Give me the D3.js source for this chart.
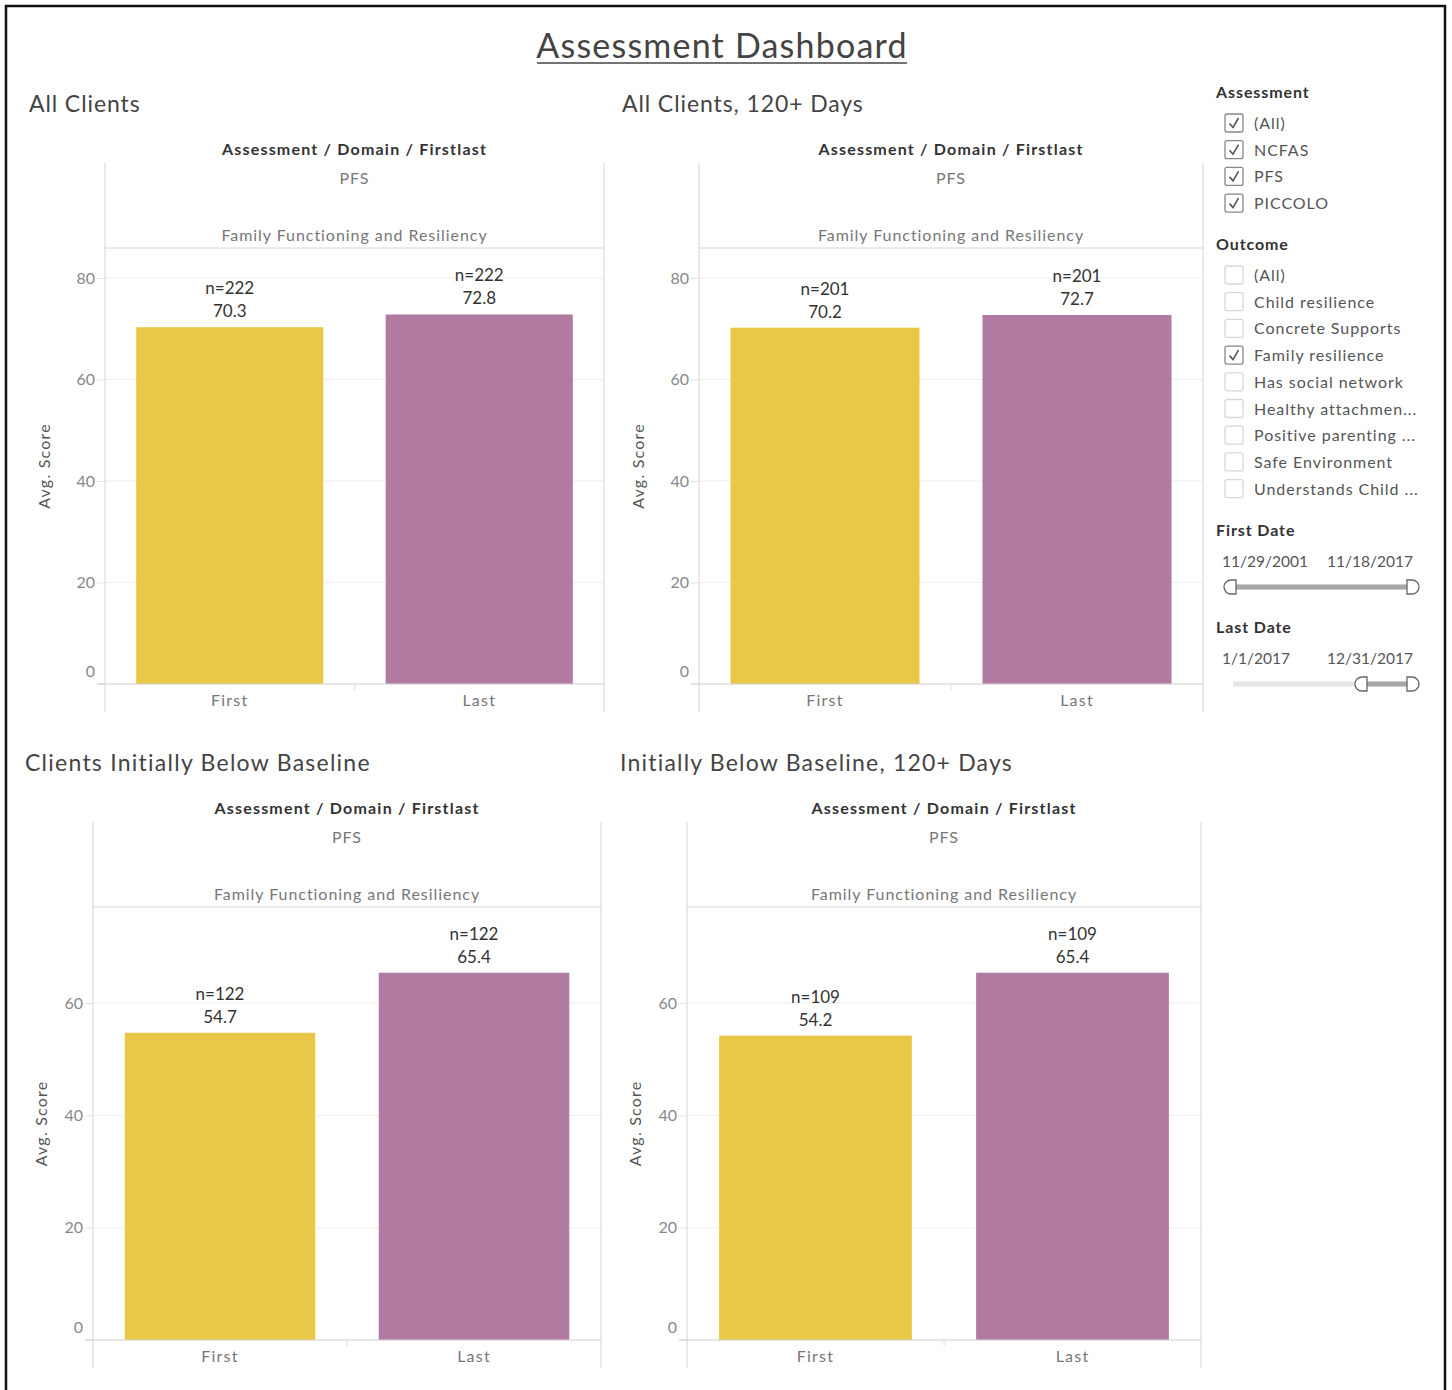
<!DOCTYPE html>
<html>
<head>
<meta charset="utf-8">
<script src="https://cdn.jsdelivr.net/npm/d3@7"></script>
<style>
  html, body { margin: 0; padding: 0; background: #fff; }
  svg { display: block; font-family: Lato, "Open Sans", sans-serif; }
</style>
</head>
<body>
<svg id="dash" width="1452" height="1390"></svg>
<script>
// ---- data ----
const panelTitles = ["All Clients", "All Clients, 120+ Days", "Clients Initially Below Baseline", "Initially Below Baseline, 120+ Days"];
const categories = ["First", "Last"];
const avgScores = [[70.3, 72.8], [70.2, 72.7], [54.7, 65.4], [54.2, 65.4]];
const clientCounts = [[222, 222], [201, 201], [122, 122], [109, 109]];
const yTicksTop = [0, 20, 40, 60, 80];
const yTicksBottom = [0, 20, 40, 60];
const headerLabel = "Assessment / Domain / Firstlast";
const assessmentName = "PFS";
const domainName = "Family Functioning and Resiliency";

const assessmentOptions = ["(All)", "NCFAS", "PFS", "PICCOLO"];
const assessmentChecked = [true, true, true, true];
const outcomeOptions = ["(All)", "Child resilience", "Concrete Supports", "Family resilience", "Has social network", "Healthy attachmen...", "Positive parenting ...", "Safe Environment", "Understands Child ..."];
const outcomeChecked = [false, false, false, true, false, false, false, false, false];
const firstDateRange = ["11/29/2001", "11/18/2017"];
const lastDateRange = ["1/1/2017", "12/31/2017"];

const barColors = ["#EAC847", "#B07AA1"];

const svg = d3.select("#dash");

// outer frame (bottom edge runs past the page)
svg.append("rect").attr("x", 6).attr("y", 6).attr("width", 1439).attr("height", 1400)
  .attr("fill", "none").attr("stroke", "#111").attr("stroke-width", 2.5);

// dashboard title
svg.append("text").attr("x", 722).attr("y", 58).attr("text-anchor", "middle")
  .attr("font-size", 34).attr("letter-spacing", 1.2).attr("fill", "#444").text("Assessment Dashboard");
svg.append("line").attr("x1", 537).attr("x2", 907).attr("y1", 63).attr("y2", 63)
  .attr("stroke", "#444").attr("stroke-width", 1.6);

// ---- panel layout ----
const layouts = [
  { titleX: 29,  titleY: 112, titleSpacing: 0.9, left: 105, right: 604,  top: 163, headerLine: 248, base: 684, bottom: 712, yMax: 85.9, ticks: yTicksTop, axisTitleGap: 55 },
  { titleX: 622, titleY: 112, titleSpacing: 0.9, left: 699, right: 1203, top: 163, headerLine: 248, base: 684, bottom: 712, yMax: 85.9, ticks: yTicksTop, axisTitleGap: 55 },
  { titleX: 25,  titleY: 771, titleSpacing: 1.25, left: 93,  right: 601,  top: 822, headerLine: 907, base: 1340, bottom: 1368, yMax: 77.1, ticks: yTicksBottom, axisTitleGap: 46 },
  { titleX: 620, titleY: 771, titleSpacing: 1.2, left: 687, right: 1201, top: 822, headerLine: 907, base: 1340, bottom: 1368, yMax: 77.1, ticks: yTicksBottom, axisTitleGap: 46 }
];

layouts.forEach((L, i) => {
  const g = svg.append("g");
  const cx = (L.left + L.right) / 2;

  g.append("text").attr("x", L.titleX).attr("y", L.titleY)
    .attr("font-size", 23).attr("letter-spacing", L.titleSpacing).attr("fill", "#444").text(panelTitles[i]);

  g.append("text").attr("x", cx).attr("y", L.top - 8).attr("text-anchor", "middle")
    .attr("font-size", 16).attr("letter-spacing", 1.2).attr("font-weight", 700).attr("fill", "#333").text(headerLabel);
  g.append("text").attr("x", cx).attr("y", L.top + 21).attr("text-anchor", "middle")
    .attr("font-size", 16).attr("letter-spacing", 1).attr("fill", "#777").text(assessmentName);
  g.append("text").attr("x", cx).attr("y", L.headerLine - 7).attr("text-anchor", "middle")
    .attr("font-size", 16).attr("letter-spacing", 0.95).attr("fill", "#777").text(domainName);

  const x = d3.scaleBand().domain(categories).range([L.left, L.right]).paddingInner(0.25).paddingOuter(0.125);
  const y = d3.scaleLinear().domain([0, L.yMax]).range([L.base, L.headerLine]);

  // gridlines
  g.append("g").selectAll("line").data(L.ticks.filter(t => t > 0)).join("line")
    .attr("x1", L.left).attr("x2", L.right).attr("y1", d => y(d)).attr("y2", d => y(d))
    .attr("stroke", "#eeeeee").attr("stroke-width", 1);

  // y axis
  const yAxis = d3.axisLeft(y).tickValues(L.ticks).tickSize(8).tickPadding(2).tickFormat(d3.format("d"));
  const ya = g.append("g").attr("transform", `translate(${L.left},0)`).call(yAxis);
  ya.select(".domain").remove();
  ya.selectAll(".tick line").attr("stroke", "#e4e4e4");
  ya.selectAll(".tick text").attr("font-size", 16).attr("fill", "#888")
    .attr("font-family", "Lato, sans-serif")
    .attr("dy", d => d === 0 ? "-0.45em" : "0.32em");

  g.append("text").attr("transform", `translate(${L.left - L.axisTitleGap},${(L.headerLine + L.base) / 2}) rotate(-90)`)
    .attr("text-anchor", "middle").attr("font-size", 16).attr("letter-spacing", 1.2).attr("fill", "#555").text("Avg. Score");

  // pane frame
  g.append("line").attr("x1", L.left).attr("x2", L.left).attr("y1", L.top).attr("y2", L.bottom).attr("stroke", "#d6d6d6");
  g.append("line").attr("x1", L.right).attr("x2", L.right).attr("y1", L.top).attr("y2", L.bottom).attr("stroke", "#d6d6d6");
  g.append("line").attr("x1", L.left).attr("x2", L.right).attr("y1", L.headerLine).attr("y2", L.headerLine).attr("stroke", "#d6d6d6");

  // bars
  const rows = categories.map((c, j) => ({ cat: c, v: avgScores[i][j], n: clientCounts[i][j], color: barColors[j] }));
  g.append("g").selectAll("rect").data(rows).join("rect")
    .attr("x", d => x(d.cat)).attr("width", x.bandwidth())
    .attr("y", d => y(d.v)).attr("height", d => y(0) - y(d.v))
    .attr("fill", d => d.color);

  // bar labels
  const lab = g.append("g").selectAll("g").data(rows).join("g");
  lab.append("text").attr("x", d => x(d.cat) + x.bandwidth() / 2).attr("y", d => y(d.v) - 33)
    .attr("text-anchor", "middle").attr("font-size", 17).attr("fill", "#333").text(d => "n=" + d.n);
  lab.append("text").attr("x", d => x(d.cat) + x.bandwidth() / 2).attr("y", d => y(d.v) - 10)
    .attr("text-anchor", "middle").attr("font-size", 17).attr("fill", "#333").text(d => d.v.toFixed(1));

  // x axis
  g.append("line").attr("x1", L.left - 8).attr("x2", L.right).attr("y1", L.base).attr("y2", L.base).attr("stroke", "#cfcfcf");
  g.append("line").attr("x1", cx).attr("x2", cx).attr("y1", L.base).attr("y2", L.base + 6).attr("stroke", "#e0e0e0");
  const xa = g.append("g").attr("transform", `translate(0,${L.base})`)
    .call(d3.axisBottom(x).tickSize(0).tickPadding(11));
  xa.select(".domain").remove();
  xa.selectAll(".tick text").attr("font-size", 16).attr("letter-spacing", 1.2).attr("fill", "#777")
    .attr("font-family", "Lato, sans-serif");
});

// ---- filter panel ----
const fp = svg.append("g");
const fx = 1216;

function checkbox(g, x, y, checked) {
  g.append("rect").attr("x", x).attr("y", y - 9).attr("width", 18).attr("height", 18).attr("rx", 2)
    .attr("fill", "#fff").attr("stroke", checked ? "#888" : "#d8d8d8").attr("stroke-width", 1.3);
  if (checked) {
    g.append("path").attr("d", `M${x + 4.5},${y + 0.5} L${x + 8},${y + 4.5} L${x + 13.5},${y - 5}`)
      .attr("fill", "none").attr("stroke", "#555").attr("stroke-width", 1.6);
  }
}

function filterList(titleText, titleY, items, checked, firstY) {
  fp.append("text").attr("x", fx).attr("y", titleY + 6).attr("font-size", 16).attr("font-weight", 700)
    .attr("letter-spacing", 0.9).attr("fill", "#333").text(titleText);
  items.forEach((t, k) => {
    const cy = firstY + k * 26.7;
    checkbox(fp, 1225, cy, checked[k]);
    fp.append("text").attr("x", 1254).attr("y", cy + 6).attr("font-size", 16).attr("letter-spacing", 0.95)
      .attr("fill", "#555").text(t);
  });
}

filterList("Assessment", 92, assessmentOptions, assessmentChecked, 123);
filterList("Outcome", 244, outcomeOptions, outcomeChecked, 275);

function handle(g, x, y, dir) {
  // half-rounded slider knob; dir = -1 rounds on the left, +1 on the right
  const w = 12, h = 14, r = 7;
  const p = dir < 0
    ? `M${x + 3},${y - h / 2} L${x - w + r + 3},${y - h / 2} A${r},${r} 0 0 0 ${x - w + r + 3},${y + h / 2} L${x + 3},${y + h / 2} Z`
    : `M${x - 3},${y - h / 2} L${x + w - r - 3},${y - h / 2} A${r},${r} 0 0 1 ${x + w - r - 3},${y + h / 2} L${x - 3},${y + h / 2} Z`;
  g.append("path").attr("d", p).attr("fill", "#fff").attr("stroke", "#666").attr("stroke-width", 1.3);
}

function dateSlider(titleText, titleY, range, selFrom) {
  fp.append("text").attr("x", fx).attr("y", titleY + 6).attr("font-size", 16).attr("font-weight", 700)
    .attr("letter-spacing", 0.9).attr("fill", "#333").text(titleText);
  fp.append("text").attr("x", 1222).attr("y", titleY + 37).attr("font-size", 15.5).attr("fill", "#555").text(range[0]);
  fp.append("text").attr("x", 1327).attr("y", titleY + 37).attr("font-size", 15.5).attr("fill", "#555").text(range[1]);
  const sy = titleY + 57;
  const s = d3.scaleLinear().domain([0, 1]).range([1233, 1410]);
  fp.append("line").attr("x1", s(0)).attr("x2", s(1)).attr("y1", sy).attr("y2", sy)
    .attr("stroke", "#e6e6e6").attr("stroke-width", 5);
  fp.append("line").attr("x1", s(selFrom)).attr("x2", s(1)).attr("y1", sy).attr("y2", sy)
    .attr("stroke", "#a8a8a8").attr("stroke-width", 5);
  handle(fp, s(selFrom), sy, -1);
  handle(fp, s(1), sy, 1);
}

dateSlider("First Date", 530, firstDateRange, 0);
dateSlider("Last Date", 627, lastDateRange, 0.74);
</script>
</body>
</html>
